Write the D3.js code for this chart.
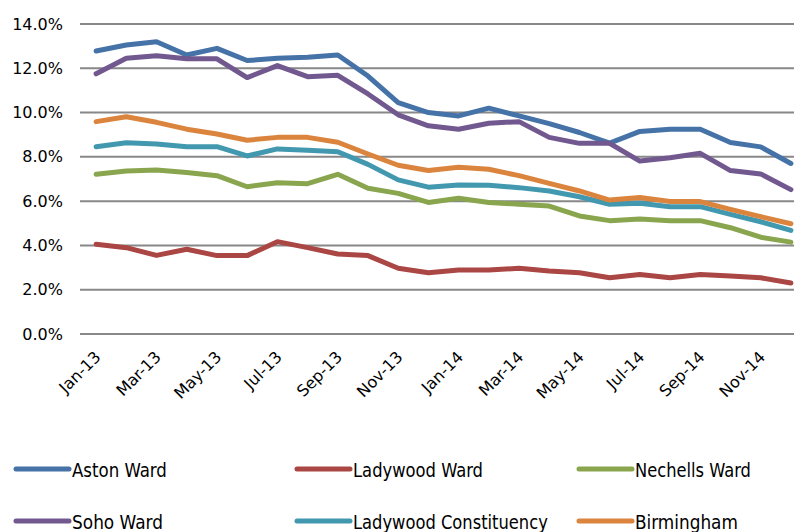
<!DOCTYPE html>
<html>
<head>
<meta charset="utf-8">
<script src="https://cdn.jsdelivr.net/npm/d3@7"></script>
<style>
  body { margin: 0; background: #fff; }
  svg { display: block; }
</style>
</head>
<body>
<script>
const months = ['Jan-13','Feb-13','Mar-13','Apr-13','May-13','Jun-13','Jul-13','Aug-13','Sep-13','Oct-13','Nov-13','Dec-13',
  'Jan-14','Feb-14','Mar-14','Apr-14','May-14','Jun-14','Jul-14','Aug-14','Sep-14','Oct-14','Nov-14','Dec-14'];

const aston = [12.78, 13.05, 13.2, 12.6, 12.9, 12.35, 12.45, 12.5, 12.6, 11.65, 10.45, 10.0,
  9.85, 10.2, 9.85, 9.5, 9.1, 8.62, 9.15, 9.25, 9.25, 8.65, 8.45, 7.7];
const ladywoodWard = [4.05, 3.9, 3.55, 3.83, 3.54, 3.54, 4.17, 3.9, 3.61, 3.54, 2.97, 2.77,
  2.89, 2.89, 2.97, 2.85, 2.77, 2.54, 2.69, 2.54, 2.69, 2.62, 2.54, 2.3];
const nechells = [7.21, 7.36, 7.41, 7.29, 7.15, 6.65, 6.83, 6.79, 7.21, 6.58, 6.35, 5.94,
  6.13, 5.94, 5.86, 5.78, 5.33, 5.12, 5.19, 5.12, 5.12, 4.8, 4.37, 4.15];
const soho = [11.75, 12.45, 12.57, 12.43, 12.43, 11.58, 12.12, 11.62, 11.68, 10.84, 9.9, 9.4,
  9.25, 9.52, 9.59, 8.88, 8.61, 8.61, 7.81, 7.96, 8.16, 7.38, 7.23, 6.52];
const constituency = [8.46, 8.64, 8.58, 8.46, 8.46, 8.04, 8.36, 8.3, 8.23, 7.66, 6.96, 6.63,
  6.73, 6.72, 6.61, 6.46, 6.2, 5.86, 5.9, 5.75, 5.75, 5.4, 5.07, 4.68];
const birmingham = [9.59, 9.81, 9.56, 9.25, 9.03, 8.75, 8.88, 8.88, 8.66, 8.13, 7.62, 7.38,
  7.53, 7.44, 7.15, 6.8, 6.46, 6.05, 6.16, 5.98, 5.98, 5.63, 5.3, 4.98];

const seriesNames = ['Aston Ward', 'Ladywood Ward', 'Nechells Ward', 'Soho Ward', 'Ladywood Constituency', 'Birmingham'];
const seriesValues = [aston, ladywoodWard, nechells, soho, constituency, birmingham];
const seriesColors = ['#4572A7', '#AA4643', '#89A54E', '#71588F', '#4198AF', '#DB843D'];
const yTicks = [0, 2, 4, 6, 8, 10, 12, 14];
const legendWidths = [95, 130, 116, 91, 195, 103];

const width = 794, height = 532;
const plot = { left: 81, right: 806, top: 24, bottom: 334 };

const svg = d3.select('body').append('svg')
  .attr('width', width)
  .attr('height', height);

const x = d3.scalePoint()
  .domain(months)
  .range([plot.left, plot.right])
  .padding(0.5);

const y = d3.scaleLinear()
  .domain([0, 14])
  .range([plot.bottom, plot.top]);

// gridlines
svg.append('g')
  .selectAll('line')
  .data(yTicks)
  .enter()
  .append('line')
  .attr('x1', 80)
  .attr('x2', width)
  .attr('y1', (d) => y(d))
  .attr('y2', (d) => y(d))
  .attr('stroke', '#888')
  .attr('stroke-width', 2);

// y axis labels
const yAxis = d3.axisLeft(y)
  .tickValues(yTicks)
  .tickFormat((d) => d.toFixed(1) + '%')
  .tickSize(0)
  .tickPadding(0);

svg.append('g')
  .attr('transform', 'translate(63,0)')
  .call(yAxis)
  .call((g) => g.select('.domain').remove())
  .selectAll('text')
  .attr('font-family', 'DejaVu Sans, Verdana, sans-serif')
  .attr('font-size', 16)
  .attr('fill', '#000');

// x axis labels (every other month)
const xAxis = d3.axisBottom(x)
  .tickValues(months.filter((d, i) => i % 2 === 0))
  .tickSize(0)
  .tickPadding(0);

svg.append('g')
  .attr('transform', 'translate(0,' + plot.bottom + ')')
  .call(xAxis)
  .call((g) => g.select('.domain').remove())
  .selectAll('text')
  .attr('font-family', 'DejaVu Sans, Verdana, sans-serif')
  .attr('font-size', 16)
  .attr('fill', '#000')
  .attr('dy', 0)
  .attr('y', 0)
  .attr('text-anchor', 'end')
  .attr('transform', 'translate(5,24) rotate(-45)');

// lines
const line = d3.line()
  .x((d, i) => x(months[i]))
  .y((d) => y(d));

svg.append('g')
  .selectAll('path')
  .data(seriesValues)
  .enter()
  .append('path')
  .attr('d', (d) => line(d))
  .attr('fill', 'none')
  .attr('stroke', (d, i) => seriesColors[i])
  .attr('stroke-width', 5)
  .attr('stroke-linejoin', 'round')
  .attr('stroke-linecap', 'round');

// legend
const legendCols = [16, 297, 579];
const legendRows = [469, 521];

const legend = svg.append('g')
  .selectAll('g')
  .data(seriesNames)
  .enter()
  .append('g')
  .attr('transform', (d, i) => 'translate(' + legendCols[i % 3] + ',' + legendRows[Math.floor(i / 3)] + ')');

legend.append('line')
  .attr('x1', 0)
  .attr('x2', 53)
  .attr('y1', 0)
  .attr('y2', 0)
  .attr('stroke', (d, i) => seriesColors[i])
  .attr('stroke-width', 5)
  .attr('stroke-linecap', 'round');

// squeeze the legend labels horizontally like the narrow font in the original
legend.append('text')
  .text((d) => d)
  .attr('font-family', 'DejaVu Sans Condensed, DejaVu Sans, sans-serif')
  .attr('font-size', 20)
  .attr('fill', '#000')
  .attr('transform', function (d, i) {
    const w = this.getComputedTextLength();
    return 'translate(56,8) scale(' + (legendWidths[i] / w) + ',1)';
  });
</script>
</body>
</html>
